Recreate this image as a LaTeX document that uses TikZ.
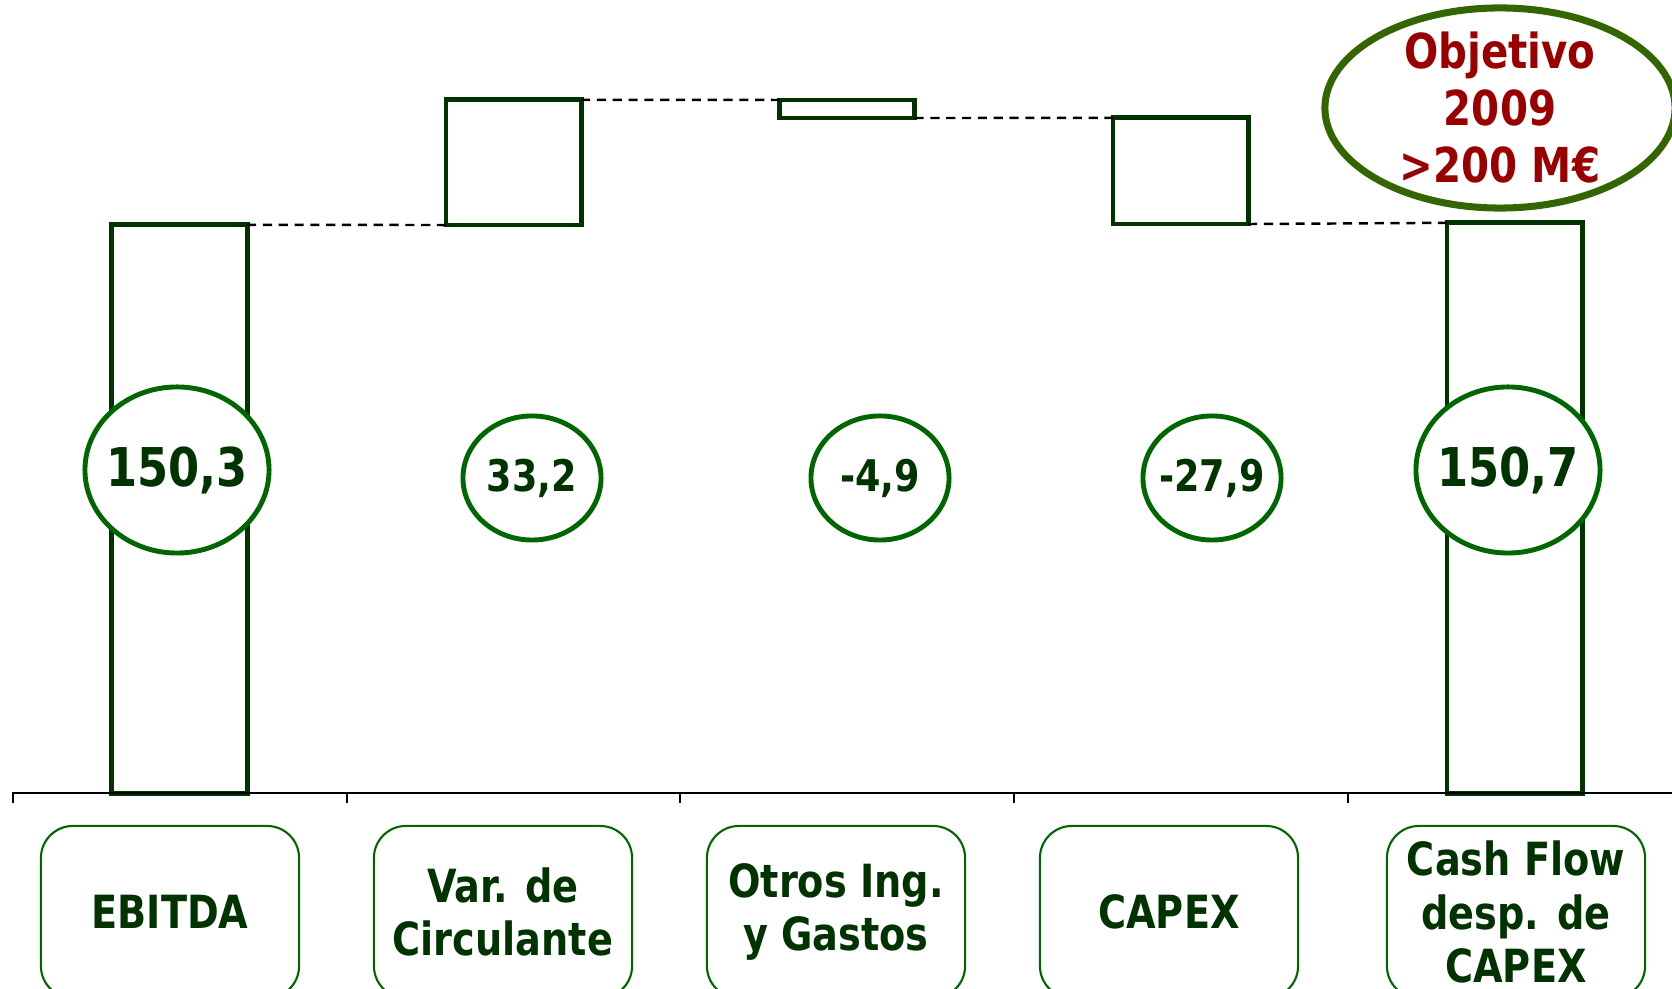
\documentclass[tikz,border=0pt]{standalone}
\usepackage{fontspec}
\setmainfont{DejaVu Sans Condensed}[BoldFont={DejaVu Sans Condensed Bold}]
\newfontfamily\chartfont{DejaVu Sans Condensed Bold}[FakeStretch=0.93]
\usepackage{xcolor}
\usepackage{tikz}
\usetikzlibrary{shapes.geometric}
\definecolor{bargreen}{HTML}{003300}
\definecolor{ringgreen}{HTML}{006600}
\definecolor{olivegreen}{HTML}{336600}
\definecolor{goalred}{HTML}{990000}
\begin{document}
\begin{tikzpicture}[x=0.01cm,y=-0.01cm,
    bar/.style={draw=bargreen,line width=1.4pt,rectangle,inner sep=0pt,outer sep=0pt,minimum width=1.35cm},
    val/.style={ellipse,draw=ringgreen,fill=white,line width=1.4pt,inner xsep=-0.1cm,inner ysep=0pt,text=bargreen,font=\chartfont\fontsize{12.4}{14}\selectfont,minimum width=1.38cm,minimum height=1.24cm},
    bigval/.style={val,font=\chartfont\fontsize{15.2}{17}\selectfont,minimum width=1.84cm,minimum height=1.66cm},
    cat/.style={draw=ringgreen,fill=white,line width=0.6pt,rounded corners=0.32cm,minimum width=2.58cm,minimum height=1.72cm,align=center,text=bargreen,font=\chartfont\fontsize{13}{15.2}\selectfont,inner sep=0pt},
    link/.style={black,line width=0.7pt,dash pattern=on 2.6pt off 1.9pt}]

                \useasboundingbox (0,0) rectangle (1672,989);

                \node[bar,minimum height=5.68cm] (ebitda) at (179.5,509){};
                \node[bar,minimum height=1.25cm] (var) at (513.5,162.5){};
                \node[bar,minimum height=0.18cm] (otros) at (847,109){};
                \node[bar,minimum height=1.06cm] (capex) at (1180.5,171){};
                \node[bar,minimum height=5.70cm] (cash) at (1514.5,508){};
                \draw[link] (ebitda.north east)--(var.south west) (var.north east)--(otros.north west) (otros.south east)--(capex.north west) (capex.south east)--(cash.north west);

                \node[bigval] (vebitda) at (177,470){150,3};
                \node[val] (vvar) at (532,478){33,2};
                \node[val] (votros) at (880,478){-4,9};
                \node[val] (vcapex) at (1212,478){-27,9};
                \node[bigval] (vcash) at (1508,470){150,7};

                \node[ellipse,draw=olivegreen,fill=white,line width=2pt,minimum width=3.5cm,minimum height=2cm,inner xsep=0pt,inner ysep=-0.3cm,align=center,text=goalred,font=\chartfont\fontsize{13.7}{16.2}\selectfont] (goal) at (1500,108){Objetivo\\2009\\>200 M€};

                \draw[black,line width=0.6pt] (12,793)--(1672,793);
                \foreach \x in {13,347,680,1014,1348}
                    \draw[black,line width=0.6pt] (\x,793)--(\x,803);

                \node[cat] (lebitda) at (170,912){EBITDA};
                \node[cat] (lvar) at (503,912){Var. de\\Circulante};
                \node[cat] (lotros) at (836,912){Otros Ing.\\y Gastos};
                \node[cat] (lcapex) at (1169,912){CAPEX};
                \node[cat] (lcash) at (1516,912){Cash Flow\\desp. de\\CAPEX};

\end{tikzpicture}
\end{document}
